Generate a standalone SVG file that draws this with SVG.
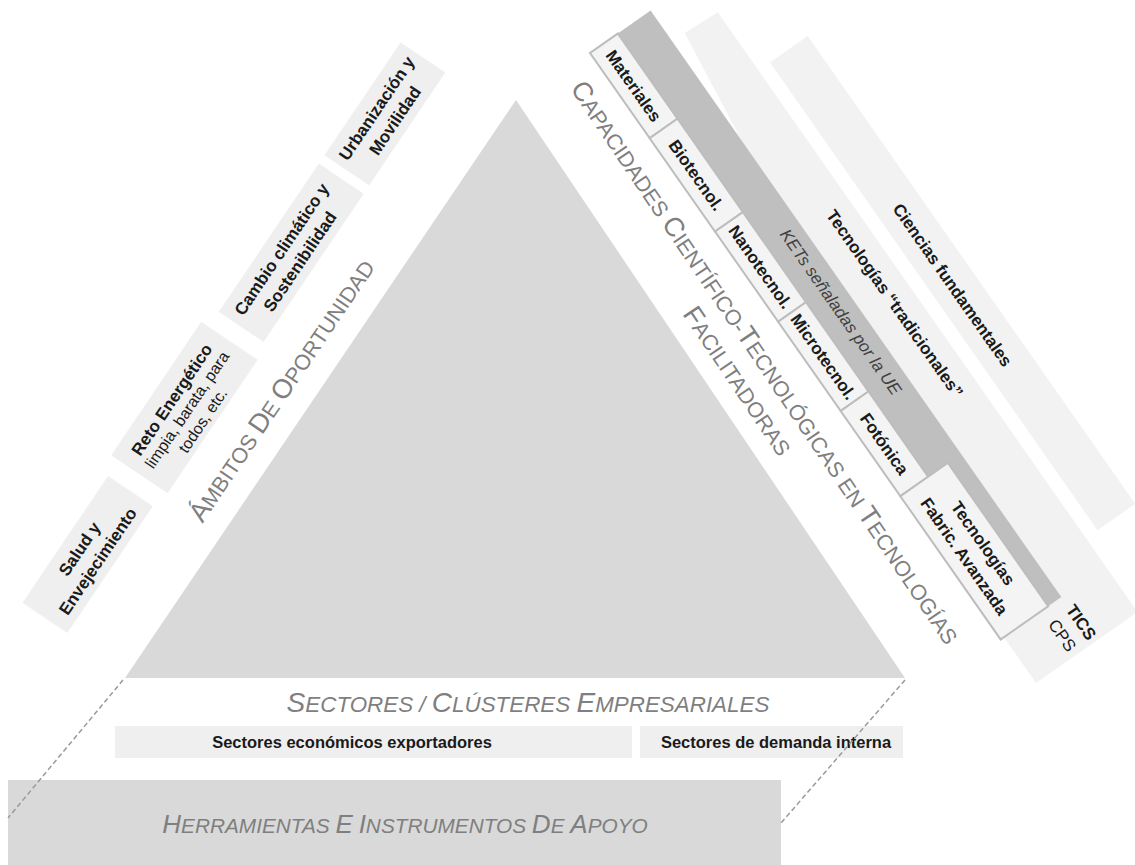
<svg xmlns="http://www.w3.org/2000/svg" width="1135" height="865" viewBox="0 0 1135 865">
<style>
.lbl{font-family:"Liberation Sans",Arial,sans-serif;font-weight:bold;font-size:17px;fill:#1a1a1a;text-anchor:middle}
.reg{font-weight:normal}
.sc{font-family:"Liberation Sans",Arial,sans-serif;font-size:21.6px;fill:#7f7f7f;text-anchor:middle}
.sc .b{font-size:27px}
.box{fill:#efefef}
.strip{fill:#f2f2f2}
.ket{fill:#f4f4f4;stroke:#bdbdbd;stroke-width:2}
.dash{fill:none;stroke:#9a9a9a;stroke-width:1.5;stroke-dasharray:5 3}
</style>
<rect width="1135" height="865" fill="#ffffff"/>
<g id="triangle"><polygon points="516,100 905,678 125,678" fill="#d9d9d9"/></g>

<g id="ambitos" transform="translate(125,678) rotate(-56)">
  <g id="salud"><rect class="box" x="5" y="-127" width="153" height="54"/>
    <text class="lbl" x="81.5" y="-104">Salud y</text><text class="lbl" x="81.5" y="-82">Envejecimiento</text></g>
  <g id="reto"><rect class="box" x="177" y="-136" width="161" height="68"/>
    <text class="lbl" x="257" y="-111">Reto Energético</text>
    <text class="lbl reg" x="257" y="-93" style="font-size:16px">limpia, barata, para</text>
    <text class="lbl reg" x="257" y="-74" style="font-size:16px">todos, etc.</text></g>
  <g id="cambio"><rect class="box" x="356" y="-127" width="179" height="54"/>
    <text class="lbl" x="443" y="-104">Cambio climático y</text><text class="lbl" x="443" y="-82">Sostenibilidad</text></g>
  <g id="urbanizacion"><rect class="box" x="545" y="-127" width="136" height="54"/>
    <text class="lbl" x="613" y="-104">Urbanización y</text><text class="lbl" x="613" y="-82">Movilidad</text></g>
  <text class="sc" x="326" y="-22"><tspan class="b">Á</tspan>MBITOS <tspan class="b">D</tspan>E <tspan class="b">O</tspan>PORTUNIDAD</text>
</g>

<g id="capacidades" transform="translate(516,100) rotate(56)">
  <text class="sc" x="357" y="-51"><tspan class="b">C</tspan>APACIDADES <tspan class="b">C</tspan>IENTÍFICO-<tspan class="b">T</tspan>ECNOLÓGICAS EN <tspan class="b">T</tspan>ECNOLOGÍAS</text>
  <text class="sc" x="357" y="-18"><tspan class="b">F</tspan>ACILITADORAS</text>
</g>

<g id="tecnologias" transform="translate(590,53) rotate(55)">
  <g id="ciencias"><rect class="strip" x="111" y="-188" width="571" height="46"/>
    <text class="lbl" x="398" y="-158">Ciencias fundamentales</text></g>
  <g id="tradicionales"><polygon class="strip" points="40,-128 772,-128 772,-4 720,-4 38,-89"/>
    <text class="lbl" x="380" y="-100">Tecnologías “tradicionales”</text>
    <text class="lbl" x="748" y="-70">TICS</text><text class="lbl reg" x="748" y="-47">CPS</text></g>
  <g id="kets"><rect x="0" y="-74" width="716" height="74" fill="#bfbfbf"/>
    <text class="lbl reg" x="356" y="-51" style="font-style:italic;fill:#404040">KETs señaladas por la UE</text></g>
  <g id="materiales"><rect class="ket" x="0" y="-34" width="104" height="34"/><text class="lbl" x="52" y="-11">Materiales</text></g>
  <g id="biotecnol"><rect class="ket" x="104" y="-34" width="114" height="34"/><text class="lbl" x="161" y="-11">Biotecnol.</text></g>
  <g id="nanotecnol"><rect class="ket" x="218" y="-34" width="110" height="34"/><text class="lbl" x="273" y="-11">Nanotecnol.</text></g>
  <g id="microtecnol"><rect class="ket" x="328" y="-34" width="109" height="34"/><text class="lbl" x="382.5" y="-11">Microtecnol.</text></g>
  <g id="fotonica"><rect class="ket" x="437" y="-34" width="104" height="34"/><text class="lbl" x="489" y="-11">Fotónica</text></g>
  <g id="fabricacion"><rect class="ket" x="541" y="-58" width="175" height="58"/>
    <text class="lbl" x="627" y="-35">Tecnologías</text><text class="lbl" x="627" y="-12">Fabric. Avanzada</text></g>
</g>

<g id="sectores">
  <text class="sc" x="528" y="712" style="font-style:italic;font-size:22.4px"><tspan style="font-size:28px">S</tspan>ECTORES / <tspan style="font-size:28px">C</tspan>LÚSTERES <tspan style="font-size:28px">E</tspan>MPRESARIALES</text>
  <g id="exportadores"><rect class="box" x="115" y="726" width="517" height="32" fill="#f2f2f2"/>
    <text class="lbl" x="352" y="748" style="font-size:16.5px">Sectores económicos exportadores</text></g>
  <g id="demanda"><rect class="box" x="640" y="726" width="263" height="32"/>
    <text class="lbl" x="776" y="748" style="font-size:16.5px">Sectores de demanda interna</text></g>
</g>

<g id="herramientas"><rect x="8" y="780" width="773" height="90" fill="#d9d9d9"/>
  <text class="sc" x="405" y="833" style="font-style:italic;font-size:20.8px"><tspan style="font-size:26px">H</tspan>ERRAMIENTAS <tspan style="font-size:26px">E</tspan> <tspan style="font-size:26px">I</tspan>NSTRUMENTOS <tspan style="font-size:26px">D</tspan>E <tspan style="font-size:26px">A</tspan>POYO</text></g>

<g id="connectors">
  <line class="dash" x1="123" y1="680" x2="8" y2="818"/>
  <line class="dash" x1="905" y1="680" x2="781" y2="823"/>
</g>
</svg>
